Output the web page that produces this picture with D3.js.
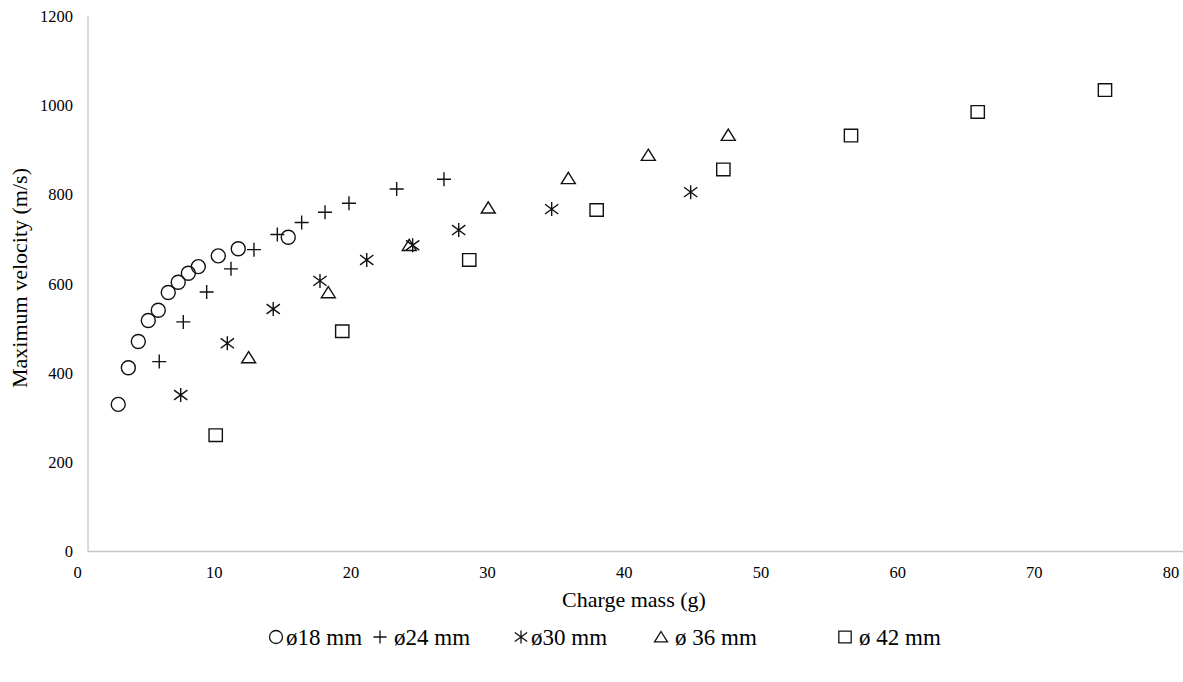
<!DOCTYPE html>
<html>
<head>
<meta charset="utf-8">
<script src="https://cdn.jsdelivr.net/npm/d3@7"></script>
<style>
  html, body { margin: 0; padding: 0; background: #fff; }
  svg text { font-family: "Liberation Serif", "Times New Roman", serif; fill: #000; }
</style>
</head>
<body>
<svg id="chart" width="1183" height="682"></svg>
<script>
// ---- Data ----
const seriesNames = ["ø18 mm", "ø24 mm", "ø30 mm", "ø 36 mm", "ø 42 mm"];
const d18x = [2.98, 3.72, 4.45, 5.18, 5.91, 6.64, 7.37, 8.11, 8.84, 10.30, 11.76, 15.42];
const d18y = [330, 412, 471, 518, 541, 581, 604, 624, 639, 663, 679, 705];
const d24x = [5.98, 7.74, 9.45, 11.23, 12.91, 14.62, 16.40, 18.11, 19.86, 23.35, 26.81];
const d24y = [426, 515, 582, 634, 677, 711, 738, 761, 781, 813, 835];
const d30x = [7.55, 10.96, 14.32, 17.74, 21.16, 24.52, 27.89, 34.69, 44.86];
const d30y = [351, 467, 544, 607, 654, 687, 721, 768, 806];
const d36x = [12.52, 18.35, 24.27, 30.05, 35.91, 41.76, 47.61];
const d36y = [435, 581, 687, 771, 837, 889, 934];
const d42x = [10.11, 19.37, 28.66, 37.98, 47.25, 56.59, 65.86, 75.17];
const d42y = [261, 494, 654, 766, 857, 933, 986, 1035];
const xTicks = [0, 10, 20, 30, 40, 50, 60, 70, 80];
const yTicks = [0, 200, 400, 600, 800, 1000, 1200];
const xTitle = "Charge mass (g)";
const yTitle = "Maximum velocity (m/s)";

const series = [
  { name: seriesNames[0], shape: "circle",   xs: d18x, ys: d18y },
  { name: seriesNames[1], shape: "plus",     xs: d24x, ys: d24y },
  { name: seriesNames[2], shape: "asterisk", xs: d30x, ys: d30y },
  { name: seriesNames[3], shape: "triangle", xs: d36x, ys: d36y },
  { name: seriesNames[4], shape: "square",   xs: d42x, ys: d42y }
];

// ---- Layout ----
const svg = d3.select("#chart");
const axisLeftPx = 88, axisTopPx = 16;
const x = d3.scaleLinear().domain([0, 80]).range([77.5, 1171]);
const y = d3.scaleLinear().domain([0, 1200]).range([551.5, 16.5]);

function markerPath(shape, s) {
  const p = d3.path();
  if (shape === "circle") {
    p.moveTo(s, 0); p.arc(0, 0, s, 0, Math.PI * 2);
  } else if (shape === "plus") {
    p.moveTo(-s, 0); p.lineTo(s, 0); p.moveTo(0, -s); p.lineTo(0, s);
  } else if (shape === "asterisk") {
    p.moveTo(0, -s); p.lineTo(0, s);
    p.moveTo(-s * 0.95, -s * 0.7); p.lineTo(s * 0.95, s * 0.7);
    p.moveTo(-s * 0.95, s * 0.7); p.lineTo(s * 0.95, -s * 0.7);
  } else if (shape === "triangle") {
    p.moveTo(0, -s * 0.85); p.lineTo(s, s * 0.75); p.lineTo(-s, s * 0.75); p.closePath();
  } else if (shape === "square") {
    p.rect(-s * 0.95, -s * 0.9, s * 1.9, s * 1.8);
  }
  return p.toString();
}

// ---- Axes (tick labels from scales) ----
const fmt = d3.format("d");
svg.append("g").selectAll("text").data(xTicks).join("text")
  .attr("x", d => x(d)).attr("y", y(0) + 26)
  .attr("text-anchor", "middle").style("font-size", "16.5px").text(fmt);
svg.append("g").selectAll("text").data(yTicks).join("text")
  .attr("x", axisLeftPx - 15).attr("y", d => y(d) + 5.5)
  .attr("text-anchor", "end").style("font-size", "16.5px").text(fmt);

svg.append("line").attr("x1", axisLeftPx).attr("x2", 1183)
  .attr("y1", y(0)).attr("y2", y(0)).attr("stroke", "#c6c6c6").attr("stroke-width", 1.3);
svg.append("line").attr("x1", axisLeftPx).attr("x2", axisLeftPx)
  .attr("y1", axisTopPx).attr("y2", y(0)).attr("stroke", "#c6c6c6").attr("stroke-width", 1.3);

// ---- Points ----
series.forEach(s => {
  const pts = s.xs.map((v, i) => [v, s.ys[i]]);
  svg.append("g").selectAll("path").data(pts).join("path")
    .attr("transform", d => `translate(${x(d[0])},${y(d[1])})`)
    .attr("d", markerPath(s.shape, 7))
    .attr("fill", "none").attr("stroke", "#111").attr("stroke-width", 1.4);
});

// ---- Titles ----
svg.append("text").attr("x", 634).attr("y", 607).attr("text-anchor", "middle")
  .style("font-size", "22px").text(xTitle);
svg.append("text").attr("transform", "translate(27,278) rotate(-90)")
  .attr("text-anchor", "middle").style("font-size", "22px").text(yTitle);

// ---- Legend ----
const legendPos = [276, 380, 521, 661, 845];
const legendGap = [10, 14, 10, 14, 14];
const leg = svg.append("g");
series.forEach((s, i) => {
  const g = leg.append("g").attr("transform", `translate(${legendPos[i]},637)`);
  g.append("path").attr("d", markerPath(s.shape, 6.5))
    .attr("fill", "none").attr("stroke", "#111").attr("stroke-width", 1.3);
  g.append("text").attr("x", legendGap[i]).attr("y", 7.5).style("font-size", "23px").text(s.name);
});
</script>
</body>
</html>
